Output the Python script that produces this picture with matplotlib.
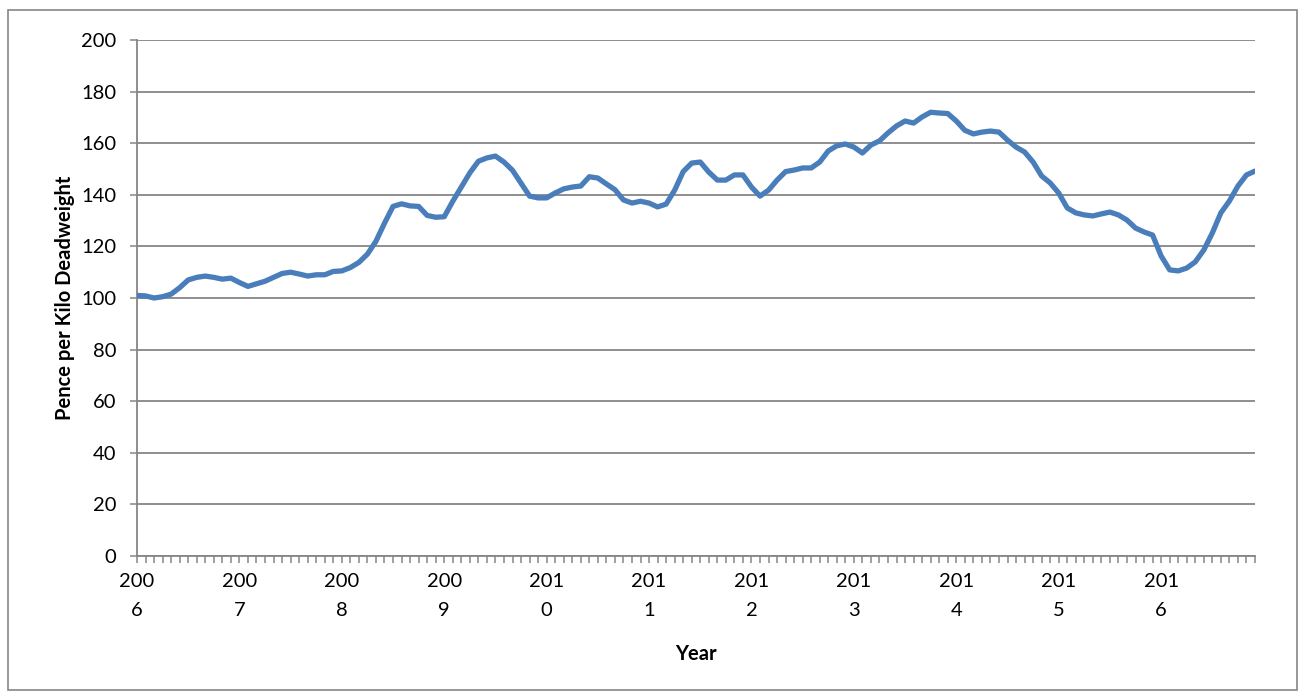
import matplotlib.pyplot as plt
import matplotlib.patches as patches
import numpy as np

# monthly deadweight price, Jan 2006 .. Dec 2016 (pence per kilo)
prix_2006 = [101, 100.8, 100, 100.5, 101.5, 104, 107, 108, 108.5, 108, 107.3, 107.7]
prix_2007 = [106, 104.5, 105.5, 106.5, 108, 109.5, 110, 109.3, 108.5, 109, 109, 110.3]
prix_2008 = [110.5, 111.8, 113.8, 117, 122, 129, 135.5, 136.5, 135.7, 135.5, 132, 131.3]
prix_2009 = [131.5, 137.5, 143, 148.5, 153, 154.3, 155, 152.7, 149.5, 144.5, 139.5, 138.8]
prix_2010 = [138.8, 140.7, 142.3, 143, 143.4, 147, 146.5, 144.2, 142, 138, 136.8, 137.5]
prix_2011 = [136.8, 135.3, 136.4, 141.8, 149, 152.3, 152.7, 148.8, 145.7, 145.7, 147.7, 147.7]
prix_2012 = [143, 139.5, 141.8, 145.7, 149, 149.6, 150.4, 150.4, 152.7, 157, 159, 159.7]
prix_2013 = [158.5, 156.2, 159.3, 160.9, 164, 166.7, 168.6, 167.8, 170.2, 172, 171.7, 171.5]
prix_2014 = [168.6, 165, 163.6, 164.3, 164.7, 164.3, 161.2, 158.5, 156.6, 152.7, 147.3, 144.6]
prix_2015 = [140.7, 134.9, 133, 132.2, 131.8, 132.6, 133.3, 132.2, 130.2, 127.1, 125.6, 124.4]
prix_2016 = [116.3, 110.9, 110.5, 111.6, 114, 118.6, 125.2, 133, 137.6, 143.4, 147.7, 149.2]

annees = ['2006', '2007', '2008', '2009', '2010', '2011',
          '2012', '2013', '2014', '2015', '2016']

prix = (prix_2006 + prix_2007 + prix_2008 + prix_2009 + prix_2010 + prix_2011
        + prix_2012 + prix_2013 + prix_2014 + prix_2015 + prix_2016)
mois = np.arange(len(prix))

plt.rcParams['font.family'] = ['Lato', 'DejaVu Sans']
gris = '#868686'

fig = plt.figure(figsize=(12.99, 6.96), dpi=100)
ax = fig.add_axes([137 / 1299, 1 - 556 / 696, (1255 - 137) / 1299, (556 - 40) / 696])

# cadre autour du graphique
fig.patches.append(patches.Rectangle((8 / 1299, 1 - 690 / 696), 1289 / 1299, 680 / 696,
                                     transform=fig.transFigure, fill=False,
                                     edgecolor=gris, linewidth=1.2))

ax.plot(mois, prix, color='#4a7ebb', linewidth=3.8, solid_capstyle='round',
        solid_joinstyle='round', zorder=3)

ax.set_xlim(0, len(prix) - 1)
ax.set_ylim(0, 200)
ax.set_yticks(np.arange(0, 201, 20))
ax.grid(axis='y', color=gris, linewidth=1.3)
ax.set_axisbelow(True)

# une graduation par mois, une étiquette par année
ax.set_xticks(np.arange(0, len(prix), 12))
ax.set_xticklabels(['{}\n{}'.format(a[:3], a[3]) for a in annees], fontsize=14.5,
                   linespacing=1.85)
ax.set_xticks(mois, minor=True)
ax.tick_params(axis='x', which='both', direction='out', length=5, width=1.1,
               color=gris, pad=7)
ax.tick_params(axis='y', direction='out', length=5, width=1.1, color=gris,
               labelsize=14.5, pad=10)

for cote in ['top', 'right']:
    ax.spines[cote].set_visible(False)
for cote in ['left', 'bottom']:
    ax.spines[cote].set_color(gris)
    ax.spines[cote].set_linewidth(1.3)

ax.set_ylabel('Pence per Kilo Deadweight', fontsize=14.5, fontweight='bold', labelpad=4)
ax.set_xlabel('Year', fontsize=14.5, fontweight='bold', labelpad=18)

plt.savefig('out.png', dpi=100)
